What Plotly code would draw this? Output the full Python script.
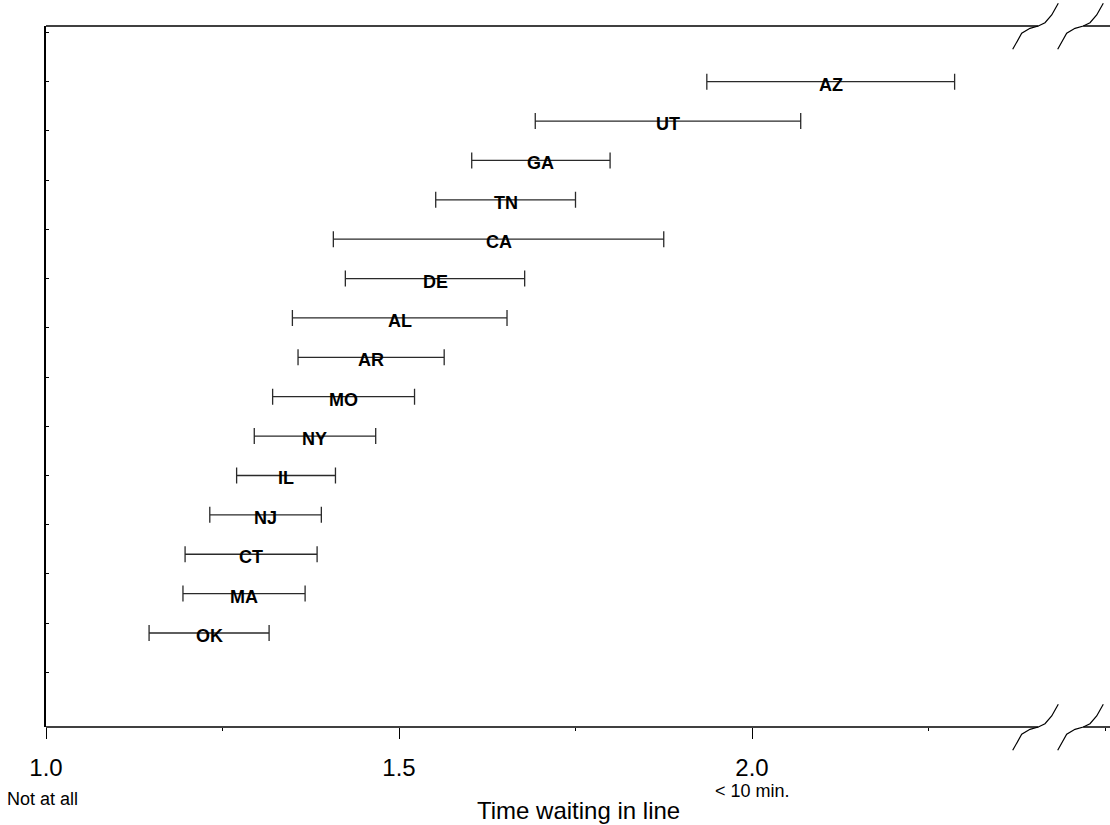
import plotly.graph_objects as go

# ---- data ----
states = ["AZ", "UT", "GA", "TN", "CA", "DE", "AL", "AR", "MO", "NY", "IL", "NJ", "CT", "MA", "OK"]
low = [1.936, 1.693, 1.603, 1.552, 1.407, 1.424, 1.349, 1.357, 1.321, 1.295, 1.270, 1.232, 1.197, 1.194, 1.146]
high = [2.287, 2.069, 1.799, 1.750, 1.875, 1.678, 1.653, 1.564, 1.522, 1.467, 1.410, 1.390, 1.384, 1.367, 1.316]
x_tick_vals = [1.0, 1.5, 2.0]
x_tick_text = ["1.0", "1.5", "2.0"]

n = len(states)
ypos = [n - i for i in range(n)]
mid = [(a + b) / 2 for a, b in zip(low, high)]
half = [(b - a) / 2 for a, b in zip(low, high)]

FONT = "Liberation Sans, Arial, sans-serif"
W, H = 1110, 825
L, R, T, B = 46, 0, 26, 98
PW, PH = W - L - R, H - T - B

fig = go.Figure()
fig.add_trace(go.Scatter(
    x=mid, y=ypos, mode="markers",
    marker=dict(size=1, color="rgba(0,0,0,0)"),
    error_x=dict(type="data", array=half, symmetric=True,
                 color="#2a2a2a", thickness=1.3, width=8),
    hoverinfo="skip", showlegend=False,
))

annotations = []
for s, m, yv in zip(states, mid, ypos):
    annotations.append(dict(x=m, y=yv, xref="x", yref="y", text=f"<b>{s}</b>", showarrow=False,
                            yshift=-3, font=dict(family=FONT, size=18, color="black"),
                            xanchor="center", yanchor="middle"))

def py2paper(py):
    return (T + PH - py) / PH

def px2paper(px):
    return (px - L) / PW

annotations += [
    dict(x=1.0, y=py2paper(799), xref="x", yref="paper", text="Not at all", showarrow=False,
         xshift=-4, font=dict(family=FONT, size=18, color="black"), xanchor="center", yanchor="middle"),
    dict(x=2.0, y=py2paper(791), xref="x", yref="paper", text="< 10 min.", showarrow=False,
         font=dict(family=FONT, size=18, color="black"), xanchor="center", yanchor="middle"),
    dict(x=0.5, y=py2paper(810), xref="paper", yref="paper", text="Time waiting in line", showarrow=False,
         font=dict(family=FONT, size=24, color="black"), xanchor="center", yanchor="middle"),
]

# frame lines with axis-break marks
shapes = []
for yline in (26, 727):
    yp = py2paper(yline)
    shapes.append(dict(type="line", xref="paper", yref="paper", x0=0, x1=px2paper(1038.3),
                       y0=yp, y1=yp, line=dict(color="black", width=1.6)))
    shapes.append(dict(type="line", xref="paper", yref="paper", x0=px2paper(1083.3), x1=1.05,
                       y0=yp, y1=yp, line=dict(color="black", width=1.6)))
    base_pts = [(1012.7, 23.3), (1021.7, 7.3), (1030, 2.3), (1038.3, 0), (1045, -3.3), (1051.7, -11), (1058.3, -22.7)]
    for dx in (0, 45):
        pts = [(px2paper(x + dx), py2paper(yline + dy)) for x, dy in base_pts]
        path = "M " + " L ".join(f"{a:.5f},{b:.5f}" for a, b in pts)
        shapes.append(dict(type="path", xref="paper", yref="paper", path=path,
                           line=dict(color="black", width=1.2)))

fig.update_layout(
    width=W, height=H,
    margin=dict(l=L, r=R, t=T, b=B),
    paper_bgcolor="white", plot_bgcolor="white",
    font=dict(family=FONT, color="black"),
    showlegend=False,
    annotations=annotations,
    shapes=shapes,
    xaxis=dict(range=[1.0, 1.0 + PW / 706.0], showgrid=False, zeroline=False, showline=False,
               tickvals=x_tick_vals, ticktext=x_tick_text, ticks="outside", ticklen=11,
               tickwidth=1, tickcolor="black", tickfont=dict(family=FONT, size=24, color="black"),
               ticklabelstandoff=8,
               minor=dict(ticks="outside", ticklen=3, tickwidth=1, tickcolor="black",
                          tick0=1.0, dtick=0.25, showgrid=False)),
    yaxis=dict(range=[-1.387, 16.414], showgrid=False, zeroline=False, showline=True,
               linecolor="black", linewidth=1.6,
               tickvals=[1.25 * k for k in range(14)], ticktext=[""] * 14,
               ticks="inside", ticklen=3, tickcolor="black", tickwidth=1),
)

fig.write_html("out.html")
